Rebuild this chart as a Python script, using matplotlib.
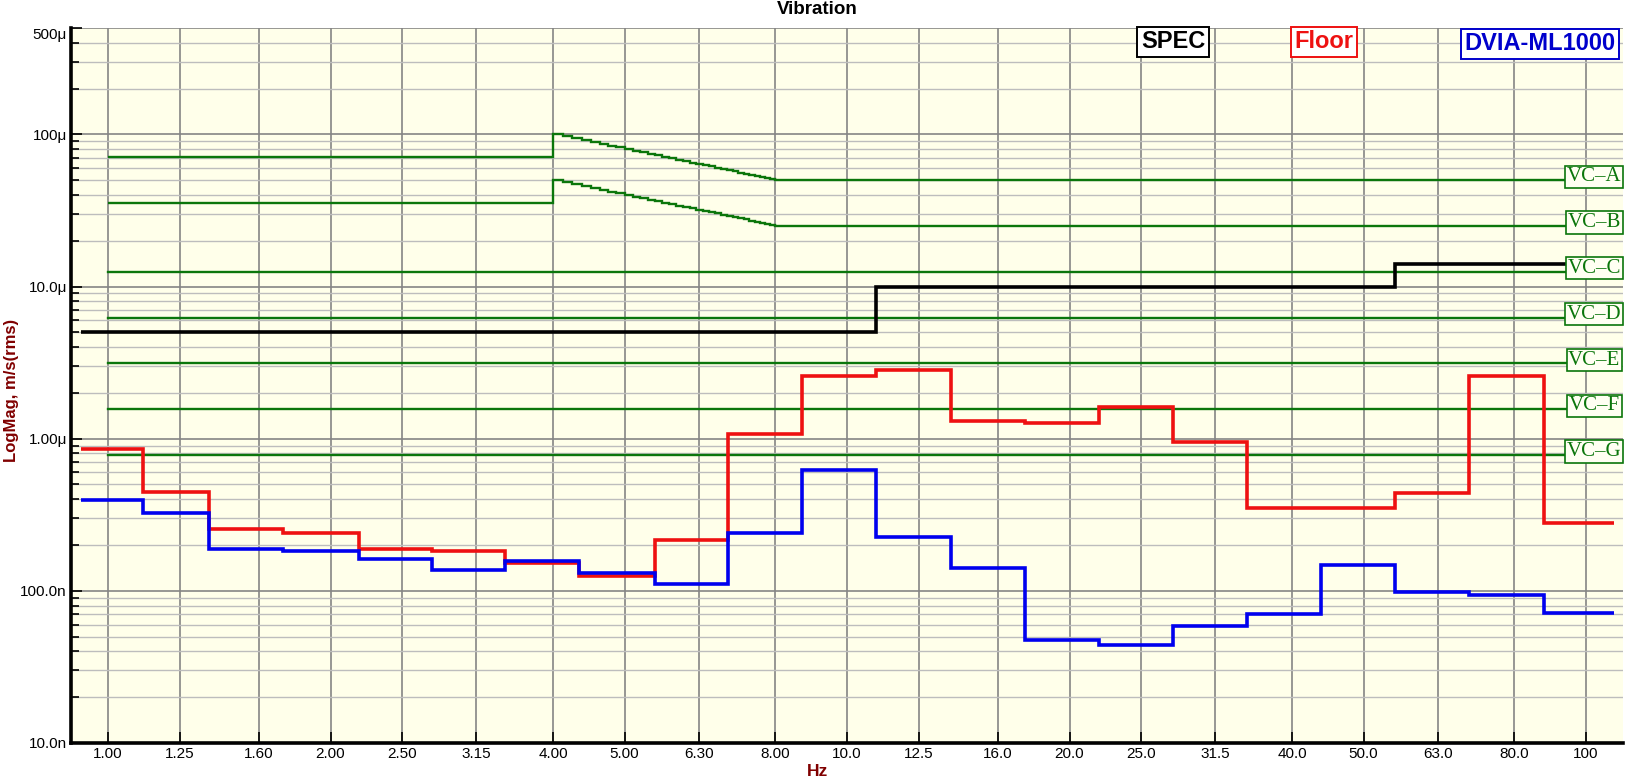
import matplotlib
matplotlib.use("Agg")
import matplotlib.pyplot as plt
from matplotlib.ticker import FixedLocator, NullLocator

plt.rcParams["font.family"] = ["Liberation Sans", "DejaVu Sans"]

W, H = 1630, 783

# ─── DATA ────────────────────────────────────────────────
# 1/3-octave band centres (Hz) and the band edges used for the step plot
band_hz = [1.0, 1.25, 1.6, 2.0, 2.5, 3.15, 4.0, 5.0, 6.3, 8.0, 10.0,
           12.5, 16.0, 20.0, 25.0, 31.5, 40.0, 50.0, 63.0, 80.0, 100.0]
band_labels = ["1.00", "1.25", "1.60", "2.00", "2.50", "3.15", "4.00", "5.00",
               "6.30", "8.00", "10.0", "12.5", "16.0", "20.0", "25.0", "31.5",
               "40.0", "50.0", "63.0", "80.0", "100"]
band_edges = [0.919, 1.115, 1.369, 1.724, 2.184, 2.741, 3.45, 4.343, 5.49,
              6.91, 8.70, 10.95, 13.82, 17.40, 21.9, 27.6, 34.8, 43.8, 55.2,
              69.5, 87.7, 109.1]

# velocity, um/s rms
floor_um = [0.855, 0.448, 0.255, 0.240, 0.188, 0.1825, 0.1535, 0.1255, 0.216,
            1.074, 2.585, 2.83, 1.313, 1.274, 1.616, 0.955, 0.350, 0.350,
            0.439, 2.597, 0.279]
dvia_um = [0.395, 0.326, 0.188, 0.1825, 0.162, 0.137, 0.157, 0.1307, 0.1107,
           0.240, 0.622, 0.2255, 0.141, 0.0476, 0.0438, 0.0586, 0.0703,
           0.1476, 0.098, 0.094, 0.0713]

spec_edges = [0.919, 10.95, 55.2, 109.1]
spec_um = [5.0, 10.0, 14.0]

# VC criteria
vc_names = ["VC–A", "VC–B", "VC–C", "VC–D", "VC–E", "VC–F", "VC–G"]
vc_um = [50.0, 25.0, 12.5, 6.25, 3.12, 1.56, 0.78]
vc_start_hz, vc_end_hz = 1.0, 100.0
vca_low_um, vcb_low_um = 70.7, 35.4          # below 4 Hz
slope_hz = [4.0, 4.125, 4.25, 4.375, 4.5, 4.625, 4.75, 4.875, 5.0, 5.125,
            5.25, 5.375, 5.5, 5.625, 5.75, 5.875, 6.0, 6.125, 6.25, 6.375,
            6.5, 6.625, 6.75, 6.875, 7.0, 7.125, 7.25, 7.375, 7.5, 7.625,
            7.75, 7.875, 8.0]
vca_slope_um = [100.0, 97.0, 94.1, 91.4, 88.9, 86.5, 84.2, 82.1, 80.0, 78.0,
                76.2, 74.4, 72.7, 71.1, 69.6, 68.1, 66.7, 65.3, 64.0, 62.7,
                61.5, 60.4, 59.3, 58.2, 57.1, 56.1, 55.2, 54.2, 53.3, 52.5,
                51.6, 50.8]
vcb_slope_um = [50.0, 48.5, 47.1, 45.7, 44.4, 43.2, 42.1, 41.0, 40.0, 39.0,
                38.1, 37.2, 36.4, 35.6, 34.8, 34.0, 33.3, 32.7, 32.0, 31.4,
                30.8, 30.2, 29.6, 29.1, 28.6, 28.1, 27.6, 27.1, 26.7, 26.2,
                25.8, 25.4]

y_ticks = [0.01, 0.1, 1.0, 10.0, 100.0, 500.0]
y_labels = ["10.0n", "100.0n", "1.00μ", "10.0μ", "100μ", "500μ"]
y_minor = [m * d for d in (0.01, 0.1, 1.0, 10.0) for m in range(2, 10)] + [200.0, 300.0, 400.0]

GREEN = "#0b760b"
DARKRED = "#800000"

# ─── FIGURE ──────────────────────────────────────────────
fig = plt.figure(figsize=(W / 100, H / 100), dpi=100)
ax = fig.add_axes([71 / W, 1 - 743 / H, (1623 - 71) / W, (743 - 28) / H])
ax.set_facecolor("#FFFFEA")
ax.set_xscale("log")
ax.set_yscale("log")
ax.set_xlim(0.891, 112.2)
ax.set_ylim(0.01, 500)

# grid
ax.xaxis.set_major_locator(FixedLocator(band_hz))
ax.xaxis.set_minor_locator(NullLocator())
ax.set_xticklabels(band_labels)
ax.yaxis.set_major_locator(FixedLocator(y_ticks))
ax.yaxis.set_minor_locator(FixedLocator(y_minor))
ax.set_yticklabels(y_labels)
ax.yaxis.set_minor_formatter(plt.NullFormatter())
ax.grid(which="major", axis="x", color="#858585", lw=1.2)
ax.grid(which="major", axis="y", color="#858585", lw=1.2)
ax.grid(which="minor", axis="y", color="#bdbdbd", lw=1.0)
ax.set_axisbelow(True)

ax.tick_params(axis="both", which="major", direction="in", length=8, width=1.2,
               labelsize=11, pad=3)
ax.tick_params(axis="y", which="minor", direction="in", length=6, width=1.2)
ax.get_yticklabels()[-1].set_va("top")
for s in ("top", "right"):
    ax.spines[s].set_visible(False)
for s in ("left", "bottom"):
    ax.spines[s].set_linewidth(2.6)

# VC criteria lines
ax.stairs([vca_low_um] + vca_slope_um + [vc_um[0]],
          [vc_start_hz] + slope_hz + [vc_end_hz], baseline=None,
          color=GREEN, lw=1.7, zorder=2)
ax.stairs([vcb_low_um] + vcb_slope_um + [vc_um[1]],
          [vc_start_hz] + slope_hz + [vc_end_hz], baseline=None,
          color=GREEN, lw=1.7, zorder=2)
for lvl in vc_um[2:]:
    ax.plot([vc_start_hz, vc_end_hz], [lvl, lvl], color=GREEN, lw=1.7, zorder=2)

# measured data
ax.stairs(spec_um, spec_edges, baseline=None, color="black", lw=2.6, zorder=3)
ax.stairs(floor_um, band_edges, baseline=None, color="#ee1111", lw=2.6, zorder=4)
ax.stairs(dvia_um, band_edges, baseline=None, color="#0000ee", lw=2.6, zorder=5)

# VC labels
for name, lvl in zip(vc_names, vc_um):
    ax.annotate(name, xy=(102.6, lvl), xytext=(0, 2.5), textcoords="offset points",
                ha="center", va="center", color=GREEN, fontsize=15,
                family="Liberation Serif", zorder=10,
                bbox=dict(boxstyle="square,pad=0.08", fc="#FFFFF2", ec=GREEN, lw=1.2))

# legend boxes
for txt, col, xc, yc in [("SPEC", "black", 1173, 42),
                         ("Floor", "#ee1111", 1324, 42),
                         ("DVIA-ML1000", "#0000cc", 1540, 44)]:
    fig.text(xc / W, 1 - yc / H, txt, color=col, fontsize=17, fontweight="bold",
             ha="center", va="center", zorder=20,
             bbox=dict(boxstyle="square,pad=0.15", fc="white", ec=col, lw=1.4))

fig.text(817 / W, 1 - 9.5 / H, "Vibration", fontsize=13.5, fontweight="bold",
         ha="center", va="center")
fig.text(817 / W, 1 - 771 / H, "Hz", fontsize=12.5, fontweight="bold",
         color=DARKRED, ha="center", va="center")
fig.text(12 / W, 1 - 390 / H, "LogMag, m/s(rms)", fontsize=12, fontweight="bold",
         color=DARKRED, ha="center", va="center", rotation=90)

fig.savefig("out.png", dpi=100, facecolor="white")
